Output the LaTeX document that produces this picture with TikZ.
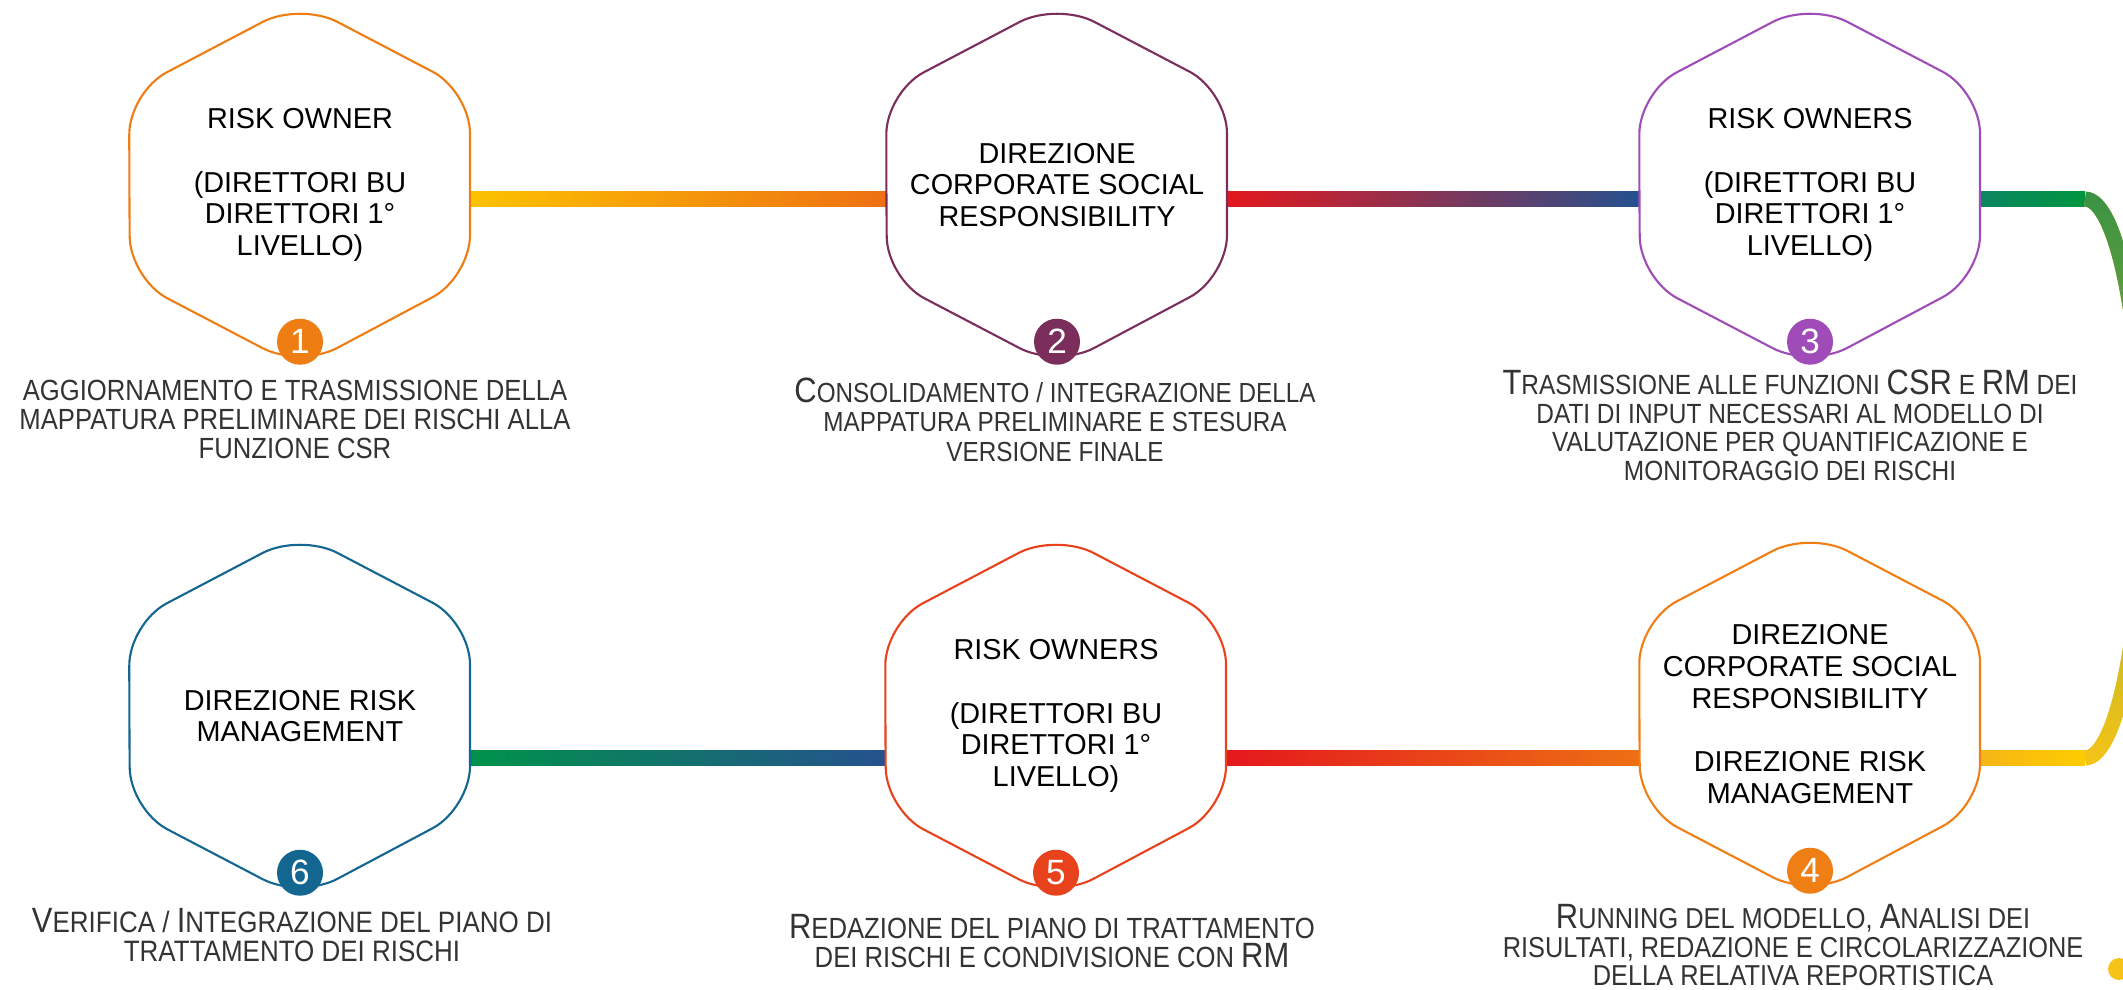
\documentclass[tikz,border=0pt]{standalone}
\usepackage{fontspec}
\setmainfont{Liberation Sans}
\newfontfamily\capfont{Liberation Sans}[FakeStretch=0.88]
\usetikzlibrary{calc,fadings}

\definecolor{ownerorange}{HTML}{EE7D14}
\definecolor{csrplum}{HTML}{7B2D5B}
\definecolor{ownerpurple}{HTML}{A04CB8}
\definecolor{runorange}{HTML}{EF7F15}
\definecolor{planred}{HTML}{E8421C}
\definecolor{rmblue}{HTML}{12668F}
\definecolor{barYellow}{HTML}{FCC200}
\definecolor{barOrange}{HTML}{EE7013}
\definecolor{barRed}{HTML}{E4181D}
\definecolor{barPlum}{HTML}{9A2240}
\definecolor{barBlue}{HTML}{25518F}
\definecolor{barGreen}{HTML}{00924A}
\definecolor{barTeal}{HTML}{0A7374}
\definecolor{barSea}{HTML}{0B8660}
\definecolor{barLeaf}{HTML}{00963F}
\definecolor{barGold}{HTML}{F5B616}
\definecolor{barSun}{HTML}{FECC00}
\definecolor{loopGreen}{HTML}{3A9346}
\definecolor{loopYellow}{HTML}{F6C418}

\newcommand\capup[1]{{\fontsize{10}{8.4}\selectfont #1}}

\begin{document}
\begin{tikzpicture}
  \tikzstyle{hexa}=[minimum width=3.4cm,minimum height=3.64cm,inner sep=0pt,align=center,font=\fontsize{8.2}{9}\selectfont]
  \tikzstyle{rim}=[line width=0.6pt,rounded corners=12pt]
  \tikzstyle{number}=[circle,inner sep=0pt,minimum size=0.46cm,text=white,font=\fontsize{10}{10}\selectfont]
  \tikzstyle{caption}=[anchor=north,inner sep=0pt,align=center,text=black!80,font=\capfont\fontsize{8}{8.4}\selectfont]
  \tikzstyle{loop}=[line width=0.15cm]
  \useasboundingbox (0,0) rectangle (21.23,-9.89);

  \node [hexa] (h1) at (3.00,-1.85) {RISK OWNER\\[9pt](DIRETTORI BU\\DIRETTORI 1°\\LIVELLO)};
  \node [hexa] (h2) at (10.57,-1.85) {DIREZIONE\\CORPORATE SOCIAL\\RESPONSIBILITY};
  \node [hexa] (h3) at (18.10,-1.85) {RISK OWNERS\\[9pt](DIRETTORI BU\\DIRETTORI 1°\\LIVELLO)};
  \node [hexa] (h4) at (18.10,-7.14) {DIREZIONE\\CORPORATE SOCIAL\\RESPONSIBILITY\\[9pt]DIREZIONE RISK\\MANAGEMENT};
  \node [hexa] (h5) at (10.56,-7.16) {RISK OWNERS\\[9pt](DIRETTORI BU\\DIRETTORI 1°\\LIVELLO)};
  \node [hexa] (h6) at (3.00,-7.16) {DIREZIONE RISK\\MANAGEMENT};
  \coordinate (rt) at (20.85,-1.99);
  \coordinate (rb) at (20.85,-7.58);

  % bars between the steps
  \shade[left color=barYellow,right color=barOrange] ($(h1.east|-rt)+(0,0.075)$) rectangle ($(h2.west|-rt)+(0,-0.075)$);
  \shade[left color=barRed,middle color=barPlum,right color=barBlue] ($(h2.east|-rt)+(0,0.075)$) rectangle ($(h3.west|-rt)+(0,-0.075)$);
  \shade[left color=barSea,right color=barLeaf] ($(h3.east|-rt)+(0,0.075)$) rectangle ($(rt)+(0,-0.075)$);
  \shade[left color=barGold,right color=barSun] ($(h4.east|-rb)+(0,0.075)$) rectangle ($(rb)+(0,-0.075)$);
  \shade[left color=barRed,right color=barOrange] ($(h5.east|-rb)+(0,0.075)$) rectangle ($(h4.west|-rb)+(0,-0.075)$);
  \shade[left color=barGreen,middle color=barTeal,right color=barBlue] ($(h6.east|-rb)+(0,0.075)$) rectangle ($(h5.west|-rb)+(0,-0.075)$);

  \begin{scope}
    \clip (0,0) rectangle (21.23,-9.89);
    \draw[loop,loopYellow] (rt) arc[start angle=90,end angle=-90,x radius=0.57,y radius=2.795];
    \draw[loop,loopGreen,path fading=south] (rt) arc[start angle=90,end angle=-90,x radius=0.57,y radius=2.795];
    \fill[loopYellow] (21.19,-9.69) circle (0.11);
  \end{scope}

  \draw[rim,ownerorange] (h1.west) -- ++(0,0.93) -- (h1.north) -- ++(1.7,-0.89) -- ++(0,-1.86) -- (h1.south) -- ++(-1.7,0.89) -- cycle;
  \draw[rim,csrplum] (h2.west) -- ++(0,0.93) -- (h2.north) -- ++(1.7,-0.89) -- ++(0,-1.86) -- (h2.south) -- ++(-1.7,0.89) -- cycle;
  \draw[rim,ownerpurple] (h3.west) -- ++(0,0.93) -- (h3.north) -- ++(1.7,-0.89) -- ++(0,-1.86) -- (h3.south) -- ++(-1.7,0.89) -- cycle;
  \draw[rim,runorange] (h4.west) -- ++(0,0.93) -- (h4.north) -- ++(1.7,-0.89) -- ++(0,-1.86) -- (h4.south) -- ++(-1.7,0.89) -- cycle;
  \draw[rim,planred] (h5.west) -- ++(0,0.93) -- (h5.north) -- ++(1.7,-0.89) -- ++(0,-1.86) -- (h5.south) -- ++(-1.7,0.89) -- cycle;
  \draw[rim,rmblue] (h6.west) -- ++(0,0.93) -- (h6.north) -- ++(1.7,-0.89) -- ++(0,-1.86) -- (h6.south) -- ++(-1.7,0.89) -- cycle;

  \node [number,fill=ownerorange] (n1) at ($(h1.south)+(0,0.26)$) {1};
  \node [number,fill=csrplum] (n2) at ($(h2.south)+(0,0.26)$) {2};
  \node [number,fill=ownerpurple] (n3) at ($(h3.south)+(0,0.26)$) {3};
  \node [number,fill=runorange] (n4) at ($(h4.south)+(0,0.26)$) {4};
  \node [number,fill=planred] (n5) at ($(h5.south)+(0,0.26)$) {5};
  \node [number,fill=rmblue] (n6) at ($(h6.south)+(0,0.26)$) {6};

  \node [caption,font=\capfont\fontsize{8.3}{8.3}\selectfont] (t1) at (2.95,-3.79) {AGGIORNAMENTO E TRASMISSIONE DELLA\\MAPPATURA PRELIMINARE DEI RISCHI ALLA\\FUNZIONE CSR};
  \node [caption,font=\capfont\fontsize{7.85}{8.4}\selectfont] (t2) at (10.55,-3.77) {\capup{C}ONSOLIDAMENTO / INTEGRAZIONE DELLA\\MAPPATURA PRELIMINARE E STESURA\\VERSIONE FINALE};
  \node [caption,font=\capfont\fontsize{7.9}{8.2}\selectfont] (t3) at (17.90,-3.69) {\capup{T}RASMISSIONE ALLE FUNZIONI \capup{CSR} E \capup{RM} DEI\\DATI DI INPUT NECESSARI AL MODELLO DI\\VALUTAZIONE PER QUANTIFICAZIONE E\\MONITORAGGIO DEI RISCHI};
  \node [caption,font=\capfont\fontsize{8.2}{8}\selectfont] (t4) at (17.93,-9.04) {\capup{R}UNNING DEL MODELLO, \capup{A}NALISI DEI\\RISULTATI, REDAZIONE E CIRCOLARIZZAZIONE\\DELLA RELATIVA REPORTISTICA};
  \node [caption,font=\capfont\fontsize{8.3}{8.2}\selectfont] (t5) at (10.52,-9.14) {\capup{R}EDAZIONE DEL PIANO DI TRATTAMENTO\\DEI RISCHI E CONDIVISIONE CON \capup{RM}};
  \node [caption,font=\capfont\fontsize{8.4}{8.2}\selectfont] (t6) at (2.92,-9.08) {\capup{V}ERIFICA / \capup{I}NTEGRAZIONE DEL PIANO DI\\TRATTAMENTO DEI RISCHI};
\end{tikzpicture}
\end{document}
